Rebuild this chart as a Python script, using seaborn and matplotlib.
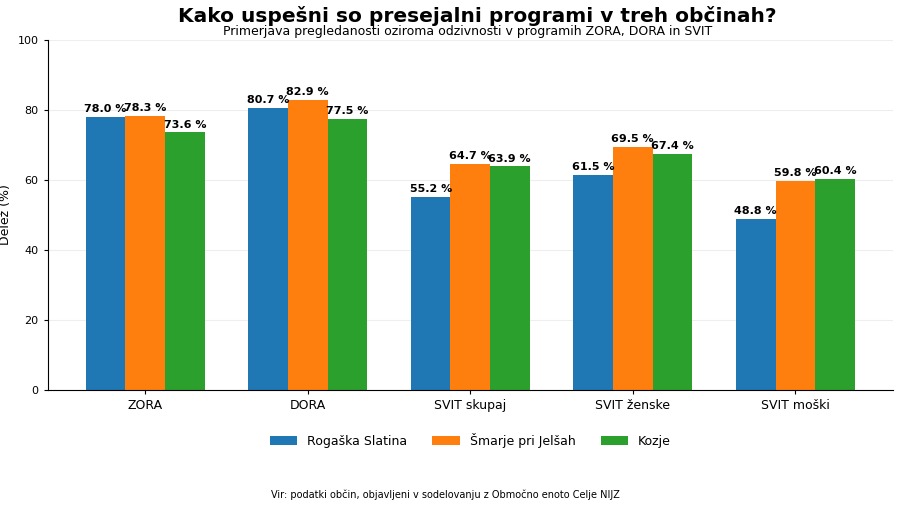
import pandas as pd
import matplotlib.pyplot as plt
import seaborn as sns

categories = ['ZORA', 'DORA', 'SVIT skupaj', 'SVIT ženske', 'SVIT moški']
municipalities = ['Rogaška Slatina', 'Šmarje pri Jelšah', 'Kozje']
rogaska = [78.0, 80.7, 55.2, 61.5, 48.8]
smarje = [78.3, 82.9, 64.7, 69.5, 59.8]
kozje = [73.6, 77.5, 63.9, 67.4, 60.4]
colors = ['#1f77b4', '#ff7f0e', '#2ca02c']

rows = []
for name, vals in zip(municipalities, [rogaska, smarje, kozje]):
    for c, v in zip(categories, vals):
        rows.append({'program': c, 'obcina': name, 'delez': v})
df = pd.DataFrame(rows)

sns.set_style('white')
plt.rcParams.update({'text.color': 'black', 'axes.labelcolor': 'black',
                     'xtick.color': 'black', 'ytick.color': 'black'})
fig = plt.figure(figsize=(9, 5.07), dpi=100)
ax = fig.add_axes([0.053, 0.231, 0.939, 0.69])
sns.barplot(data=df, x='program', y='delez', hue='obcina', hue_order=municipalities,
            palette=colors, width=0.73, saturation=1, linewidth=0, ax=ax, zorder=2)

for cont in ax.containers:
    ax.bar_label(cont, labels=[f'{b.get_height():.1f} %' for b in cont],
                 padding=2, fontsize=8, fontweight='bold')

ax.set_xlim(-0.6, 4.6)
ax.set_ylim(0, 100)
ax.set_yticks([0, 20, 40, 60, 80, 100])
ax.yaxis.grid(True, color='#eeeeee', linewidth=0.8, zorder=0)
ax.set_axisbelow(True)
ax.set_xlabel('')
ax.set_ylabel('Delež (%)', fontsize=9)
ax.tick_params(axis='both', labelsize=8, length=3, left=True, bottom=True)
ax.tick_params(axis='x', labelsize=9)
for s in ['top', 'right']:
    ax.spines[s].set_visible(False)
for s in ['left', 'bottom']:
    ax.spines[s].set_color('black')

ax.legend(loc='upper center', bbox_to_anchor=(0.5, -0.09), ncol=3, frameon=False,
          fontsize=9, handlelength=2.2, columnspacing=2)

fig.text(0.53, 0.968, 'Kako uspešni so presejalni programi v treh občinah?',
         ha='center', va='center', fontsize=14.5, fontweight='bold')
fig.text(0.52, 0.937, 'Primerjava pregledanosti oziroma odzivnosti v programih ZORA, DORA in SVIT',
         ha='center', va='center', fontsize=9)
fig.text(0.495, 0.024, 'Vir: podatki občin, objavljeni v sodelovanju z Območno enoto Celje NIJZ',
         ha='center', va='center', fontsize=7)

fig.savefig('out.png', dpi=100)
